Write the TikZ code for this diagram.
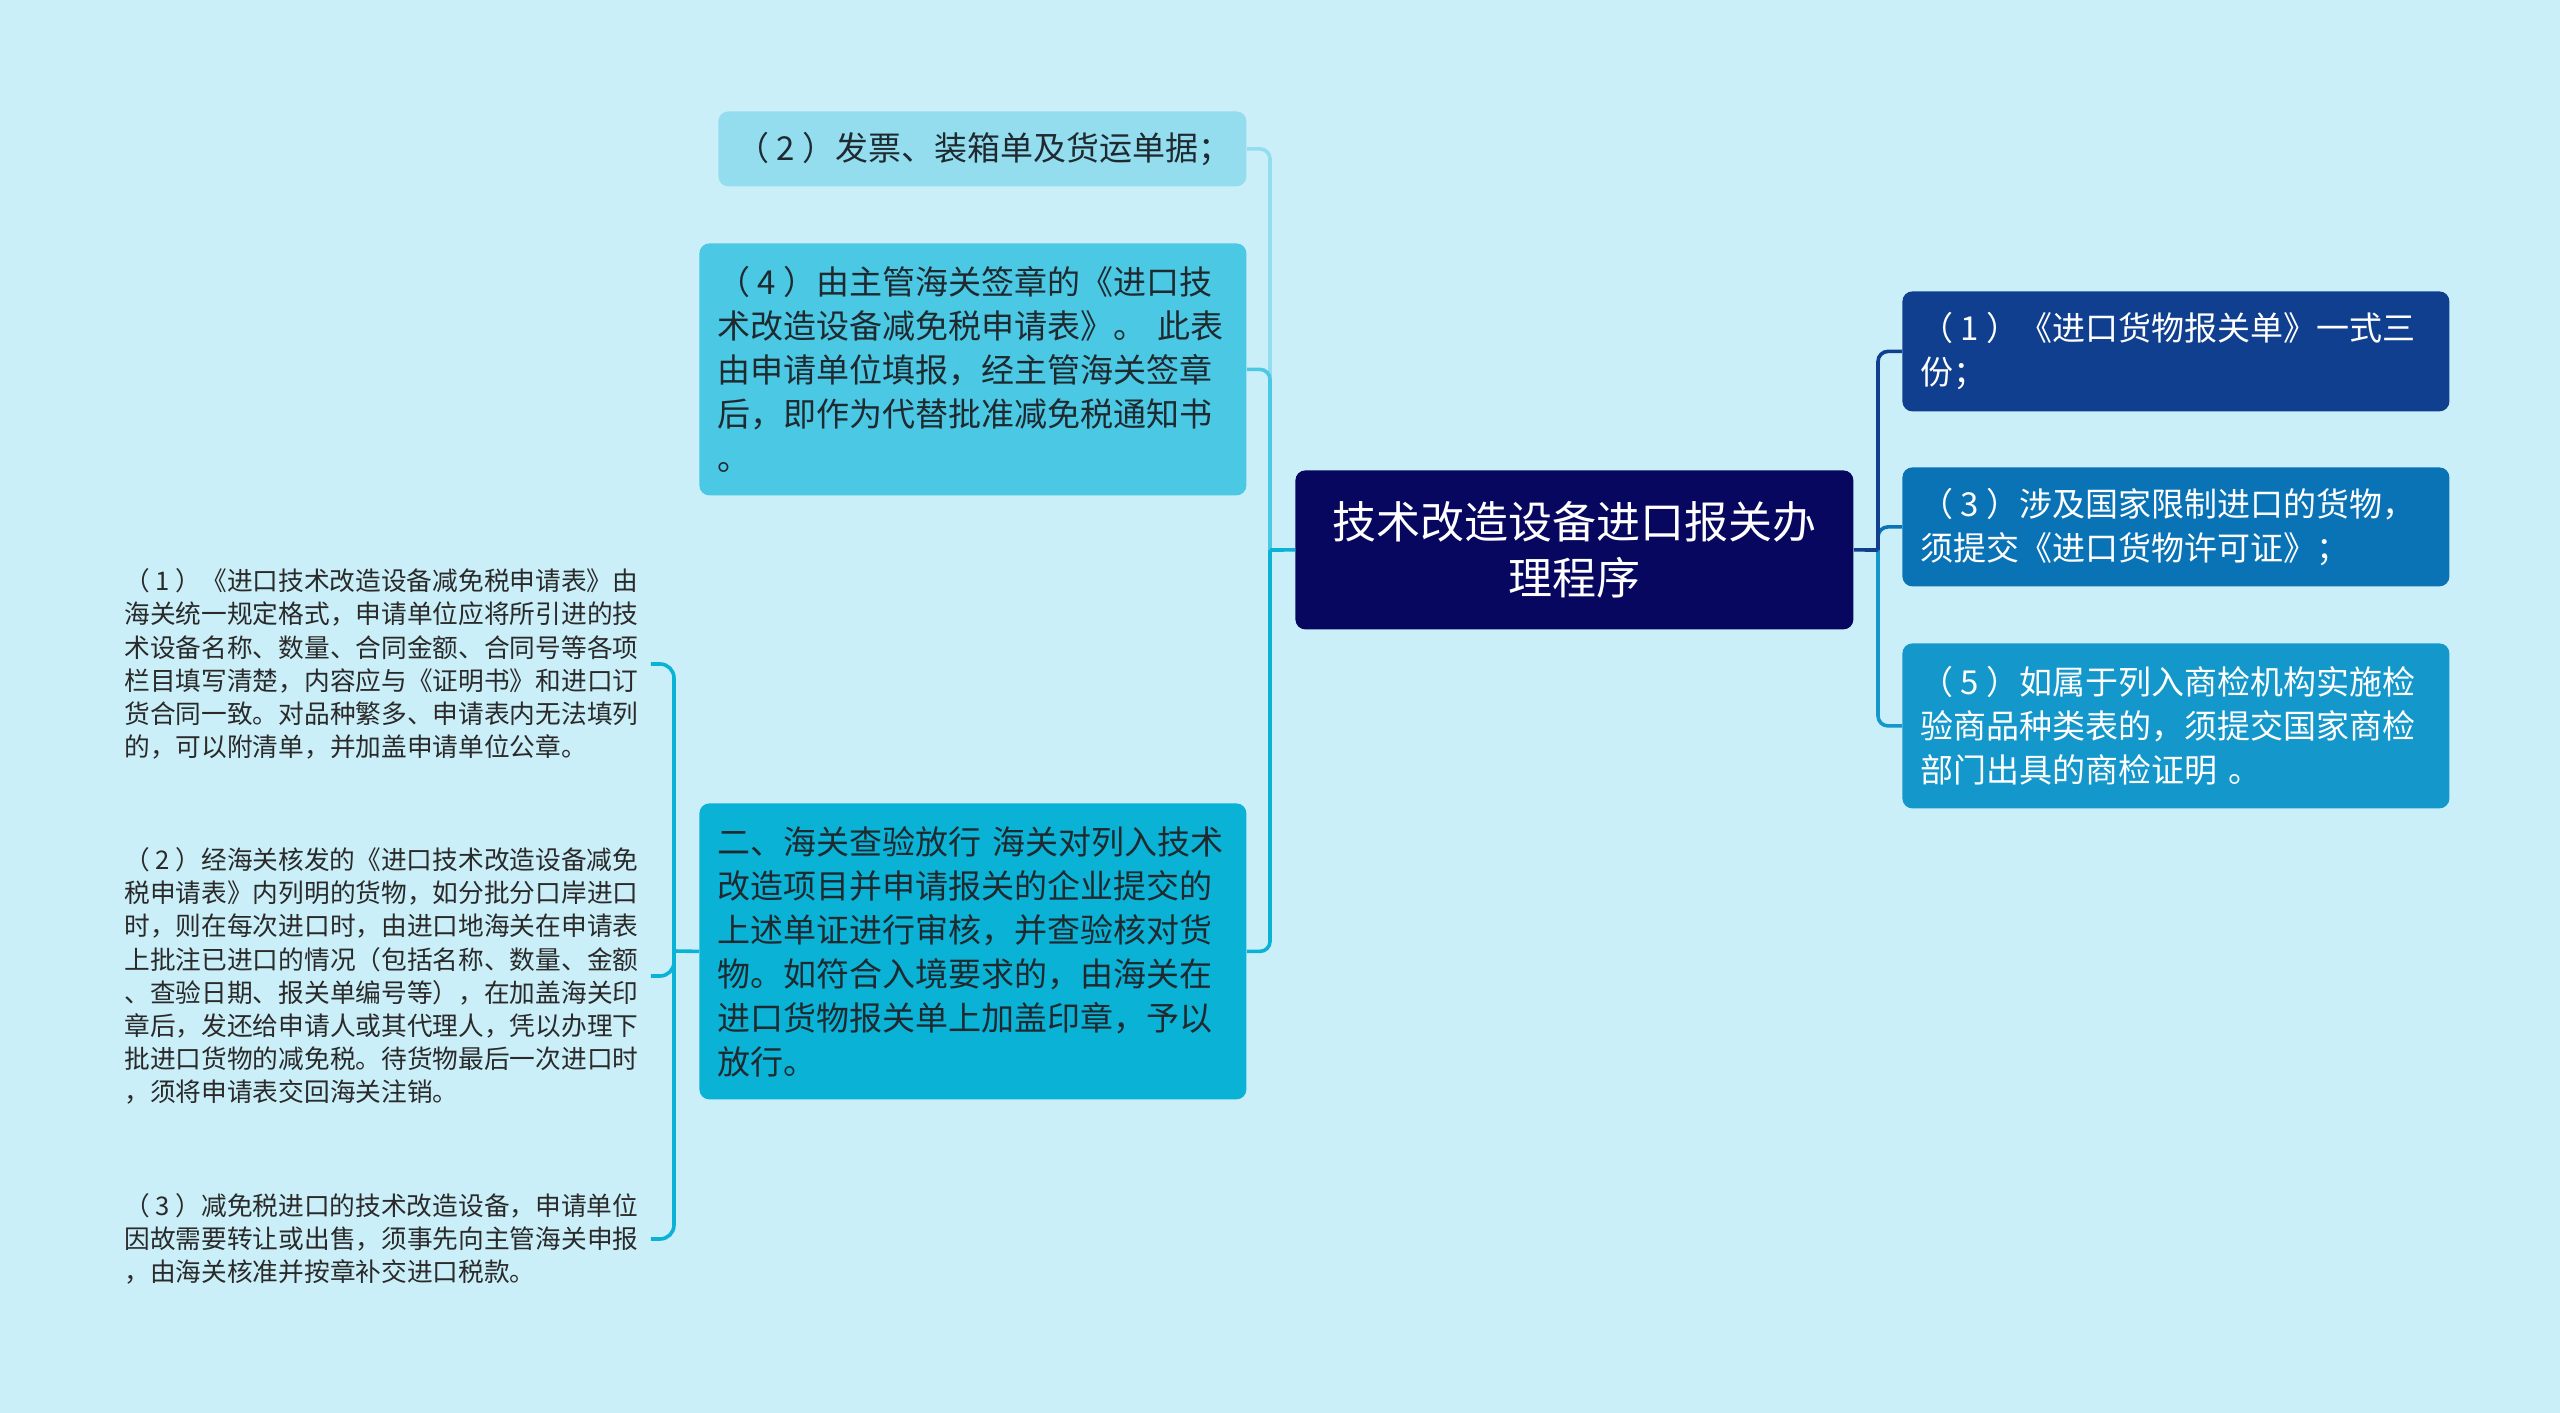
\documentclass[tikz,border=0pt]{standalone}
\usepackage{fontspec}
\setmainfont{Noto Sans CJK SC}
\definecolor{bg}{HTML}{CBEFF8}
\definecolor{cmain}{HTML}{07075F}
\definecolor{ctwo}{HTML}{93DDEF}
\definecolor{cfour}{HTML}{4BC8E3}
\definecolor{cer}{HTML}{0AB2D6}
\definecolor{rone}{HTML}{0F3F8E}
\definecolor{rthree}{HTML}{0A73B6}
\definecolor{rfive}{HTML}{1497CB}
\definecolor{txt}{HTML}{1F2A30}
\definecolor{ltxt}{HTML}{2A2A2A}
\newcommand{\pnum}[1]{（\kern0.22em#1\kern0.22em）}
\begin{document}
\begin{tikzpicture}[x=0.5pt,y=-0.5pt,
  box/.style={rounded corners=5pt, inner xsep=9pt, inner ysep=0pt, align=left,
    anchor=north west, font=\fontsize{16.5}{22}\selectfont, text=txt},
  rbox/.style={box, text=white},
  mainbox/.style={rounded corners=5pt, inner sep=0pt, align=center, anchor=north west,
    font=\fontsize{22}{27.75}\selectfont, text=white, fill=cmain,
    minimum width=279pt, minimum height=79.5pt},
  ltext/.style={anchor=west, inner xsep=3pt, inner ysep=0pt, text width=260pt, align=left,
    font=\fontsize{12.85}{16.6}\selectfont, text=ltxt},
  conn/.style={line width=1.8pt, rounded corners=5pt},
  lconn/.style={line width=1.8pt, rounded corners=7pt, draw=cer}
]
\fill[bg] (0,0) rectangle (2560,1413);

% central node
\node[mainbox] (C) at (1295,470) {技术改造设备进口报关办\\理程序};

% left column boxes
\node[box, fill=ctwo, text width=246pt, minimum height=37.5pt] (T2) at (718,111)
  {\pnum{2}发票、装箱单及货运单据；};
\node[box, fill=cfour, text width=255.5pt, minimum height=126pt] (T4) at (699,243)
  {\pnum{4}由主管海关签章的《进口技\\术改造设备减免税申请表》。~此表\\由申请单位填报，经主管海关签章\\后，即作为代替批准减免税通知书\\。};
\node[box, fill=cer, text width=255.5pt, minimum height=148pt] (T5) at (699,803)
  {二、海关查验放行~海关对列入技术\\改造项目并申请报关的企业提交的\\上述单证进行审核，并查验核对货\\物。如符合入境要求的，由海关在\\进口货物报关单上加盖印章，予以\\放行。};

% right column boxes
\node[rbox, fill=rone, text width=255.5pt, minimum height=60pt] (R1) at (1902,291)
  {\pnum{1}《进口货物报关单》一式三\\份；};
\node[rbox, fill=rthree, text width=255.5pt, minimum height=59.5pt] (R3) at (1902,467)
  {\pnum{3}涉及国家限制进口的货物，\\须提交《进口货物许可证》；};
\node[rbox, fill=rfive, text width=255.5pt, minimum height=82.5pt] (R5) at (1902,643)
  {\pnum{5}如属于列入商检机构实施检\\验商品种类表的，须提交国家商检\\部门出具的商检证明~。};

% far-left texts
\node[ltext] (L1) at (118,664)
  {\pnum{1}《进口技术改造设备减免税申请表》由\\海关统一规定格式，申请单位应将所引进的技\\术设备名称、数量、合同金额、合同号等各项\\栏目填写清楚，内容应与《证明书》和进口订\\货合同一致。对品种繁多、申请表内无法填列\\的，可以附清单，并加盖申请单位公章。};
\node[ltext] (L2) at (118,976)
  {\pnum{2}经海关核发的《进口技术改造设备减免\\税申请表》内列明的货物，如分批分口岸进口\\时，则在每次进口时，由进口地海关在申请表\\上批注已进口的情况（包括名称、数量、金额\\、查验日期、报关单编号等），在加盖海关印\\章后，发还给申请人或其代理人，凭以办理下\\批进口货物的减免税。待货物最后一次进口时\\，须将申请表交回海关注销。};
\node[ltext] (L3) at (118,1239)
  {\pnum{3}减免税进口的技术改造设备，申请单位\\因故需要转让或出售，须事先向主管海关申报\\，由海关核准并按章补交进口税款。};

% junction coordinates
\coordinate (lc) at (1270,550);
\coordinate (rc) at (1878,550);
\coordinate (lj) at (674,951);

% left main branches
\draw[conn, draw=ctwo] (lc) |- (T2.east);
\draw[conn, draw=cfour] (lc) |- (T4.east);
\draw[conn, draw=cer] (lc) |- (T5.east);
\draw[conn, draw=cer] (C.west) -- (lc);

% right branches
\draw[conn, draw=rfive] (rc) |- (R5.west);
\draw[conn, draw=rthree] (rc) |- (R3.west);
\draw[conn, draw=rone] (rc) |- (R1.west);
\draw[conn, draw=rone] (C.east) -- (rc);

% left sub-branches
\draw[lconn] (T5.west) -- (lj);
\draw[lconn] (lj) |- (L1.east);
\draw[lconn] (lj) |- (L2.east);
\draw[lconn] (lj) |- (L3.east);
\end{tikzpicture}
\end{document}
